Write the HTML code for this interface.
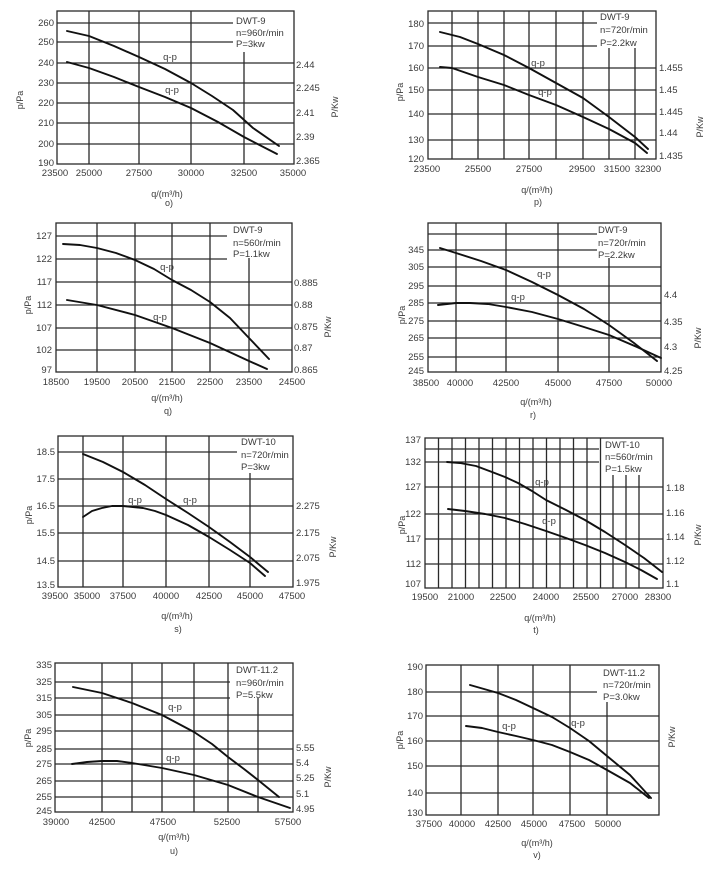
<!DOCTYPE html>
<html><head><meta charset="utf-8"><style>
html,body{margin:0;padding:0;background:#fff;}
svg{display:block;}
text{font-family:"Liberation Sans",sans-serif;fill:#3a3a3a;font-size:9.5px;}
.g{stroke:#2a2a2a;stroke-width:1.3;fill:none;}
.c{stroke:#111;stroke-width:1.9;fill:none;stroke-linejoin:round;stroke-linecap:round;}
.e{text-anchor:end;}
.m{text-anchor:middle;}
.t{font-size:9px;}
</style></head><body>
<svg width="720" height="877" viewBox="0 0 720 877" xmlns="http://www.w3.org/2000/svg">

<!-- ===== o ===== -->
<g>
<rect class="g" x="57" y="11" width="237" height="153"/>
<path class="g" d="M89 11V164M139 11V164M191 11V164M244 52V164M57 23H233M57 42H233M57 63H294M57 83H294M57 103H294M57 123H294M57 144H294"/>
<g class="e"><text x="54" y="26">260</text><text x="54" y="45">250</text><text x="54" y="66">240</text><text x="54" y="86">230</text><text x="54" y="106">220</text><text x="54" y="126">210</text><text x="54" y="147">200</text><text x="54" y="166">190</text></g>
<text x="296" y="68">2.44</text><text x="296" y="91">2.245</text><text x="296" y="116">2.41</text><text x="296" y="140">2.39</text><text x="296" y="164">2.365</text>
<g class="m"><text x="55" y="176">23500</text><text x="89" y="176">25000</text><text x="139" y="176">27500</text><text x="191" y="176">30000</text><text x="244" y="176">32500</text><text x="293" y="176">35000</text>
<text class="t" x="167" y="197">q/(m³/h)</text><text class="t" x="169" y="206">o)</text></g>
<text class="t m" transform="translate(23,100) rotate(-90)">p/Pa</text>
<text class="t m" transform="translate(338,107) rotate(-90)">P/Kw</text>
<text x="236" y="24">DWT-9</text><text x="236" y="36">n=960r/min</text><text x="236" y="47">P=3kw</text>
<polyline class="c" points="67,31 89,36 114,46 139,57 165,69 191,83 212,96 233,110 253,128 279,146"/>
<polyline class="c" points="67,62 89,68 114,77 139,87 165,97 191,108 218,122 244,137 277,154"/>
<text class="m" x="170" y="60">q-p</text><text class="m" x="172" y="93">q-p</text>
</g>

<!-- ===== p ===== -->
<g>
<rect class="g" x="428" y="11" width="228" height="148"/>
<path class="g" d="M452 11V159M478 11V159M504 11V159M529 11V159M556 11V159M583 11V159M609 48V159M635 48V159M428 23H597M428 46H597M428 68H656M428 90H656M428 114H656M428 140H656"/>
<g class="e"><text x="424" y="27">180</text><text x="424" y="49">170</text><text x="424" y="71">160</text><text x="424" y="93">150</text><text x="424" y="117">140</text><text x="424" y="143">130</text><text x="424" y="162">120</text></g>
<text x="659" y="71">1.455</text><text x="659" y="93">1.45</text><text x="659" y="115">1.445</text><text x="659" y="136">1.44</text><text x="659" y="159">1.435</text>
<g class="m"><text x="427" y="172">23500</text><text x="478" y="172">25500</text><text x="529" y="172">27500</text><text x="582" y="172">29500</text><text x="617" y="172">31500</text><text x="648" y="172">32300</text>
<text class="t" x="537" y="193">q/(m³/h)</text><text class="t" x="538" y="205">p)</text></g>
<text class="t m" transform="translate(403,92) rotate(-90)">p/Pa</text>
<text class="t m" transform="translate(703,127) rotate(-90)">P/Kw</text>
<text x="600" y="20">DWT-9</text><text x="600" y="33">n=720r/min</text><text x="600" y="46">P=2.2kw</text>
<polyline class="c" points="440,32 460,37 478,44 504,55 529,68 556,83 583,98 609,117 635,137 648,149"/>
<polyline class="c" points="440,67 452,68 478,77 504,85 529,95 556,105 583,117 609,129 635,143 647,153"/>
<text class="m" x="538" y="66">q-p</text><text class="m" x="545" y="95">q-p</text>
</g>

<!-- ===== q ===== -->
<g>
<rect class="g" x="56" y="223" width="236" height="149"/>
<path class="g" d="M97 223V372M135 223V372M172 223V372M210 223V372M249 258V372M56 236H227M56 259H227M56 282H292M56 305H292M56 328H292M56 350H292"/>
<g class="e"><text x="52" y="239">127</text><text x="52" y="262">122</text><text x="52" y="285">117</text><text x="52" y="308">112</text><text x="52" y="331">107</text><text x="52" y="353">102</text><text x="52" y="373">97</text></g>
<text x="294" y="286">0.885</text><text x="294" y="308">0.88</text><text x="294" y="330">0.875</text><text x="294" y="351">0.87</text><text x="294" y="373">0.865</text>
<g class="m"><text x="56" y="385">18500</text><text x="97" y="385">19500</text><text x="135" y="385">20500</text><text x="172" y="385">21500</text><text x="210" y="385">22500</text><text x="249" y="385">23500</text><text x="292" y="385">24500</text>
<text class="t" x="167" y="401">q/(m³/h)</text><text class="t" x="168" y="414">q)</text></g>
<text class="t m" transform="translate(31,305) rotate(-90)">p/Pa</text>
<text class="t m" transform="translate(331,327) rotate(-90)">P/Kw</text>
<text x="233" y="233">DWT-9</text><text x="233" y="246">n=560r/min</text><text x="233" y="257">P=1.1kw</text>
<polyline class="c" points="63,244 80,245 97,248 116,253 135,260 154,269 172,280 191,290 210,302 230,318 249,338 269,359"/>
<polyline class="c" points="67,300 97,305 135,315 172,328 210,343 249,361 267,369"/>
<text class="m" x="167" y="270">q-p</text><text class="m" x="160" y="320">q-p</text>
</g>

<!-- ===== r ===== -->
<g>
<rect class="g" x="428" y="223" width="233" height="149"/>
<path class="g" d="M456 223V372M506 223V372M558 223V372M609 258V372M428 234H597M428 250H597M428 267H661M428 286H661M428 303H661M428 321H661M428 338H661M428 357H661"/>
<g class="e"><text x="424" y="253">345</text><text x="424" y="270">305</text><text x="424" y="289">295</text><text x="424" y="306">285</text><text x="424" y="324">275</text><text x="424" y="341">265</text><text x="424" y="360">255</text><text x="424" y="374">245</text></g>
<text x="664" y="298">4.4</text><text x="664" y="325">4.35</text><text x="664" y="350">4.3</text><text x="664" y="374">4.25</text>
<g class="m"><text x="426" y="386">38500</text><text x="460" y="386">40000</text><text x="506" y="386">42500</text><text x="558" y="386">45000</text><text x="609" y="386">47500</text><text x="659" y="386">50000</text>
<text class="t" x="536" y="405">q/(m³/h)</text><text class="t" x="533" y="418">r)</text></g>
<text class="t m" transform="translate(405,315) rotate(-90)">p/Pa</text>
<text class="t m" transform="translate(701,338) rotate(-90)">P/Kw</text>
<text x="598" y="233">DWT-9</text><text x="598" y="246">n=720r/min</text><text x="598" y="258">P=2.2kw</text>
<polyline class="c" points="440,248 456,253 481,261 506,270 532,282 558,295 584,309 609,325 634,343 657,361"/>
<polyline class="c" points="438,305 456,303 470,303 488,304 506,307 532,312 558,319 584,327 609,335 637,347 661,358"/>
<text class="m" x="544" y="277">q-p</text><text class="m" x="518" y="300">q-p</text>
</g>

<!-- ===== s ===== -->
<g>
<rect class="g" x="58" y="436" width="235" height="151"/>
<path class="g" d="M83 436V587M123 436V587M166 436V587M209 436V587M250 473V587M58 452H237M58 479H293M58 506H293M58 533H293M58 561H293"/>
<g class="e"><text x="55" y="455">18.5</text><text x="55" y="482">17.5</text><text x="55" y="509">16.5</text><text x="55" y="536">15.5</text><text x="55" y="564">14.5</text><text x="55" y="588">13.5</text></g>
<text x="296" y="509">2.275</text><text x="296" y="536">2.175</text><text x="296" y="561">2.075</text><text x="296" y="586">1.975</text>
<g class="m"><text x="55" y="599">39500</text><text x="87" y="599">35000</text><text x="123" y="599">37500</text><text x="166" y="599">40000</text><text x="209" y="599">42500</text><text x="250" y="599">45000</text><text x="292" y="599">47500</text>
<text class="t" x="177" y="619">q/(m³/h)</text><text class="t" x="178" y="632">s)</text></g>
<text class="t m" transform="translate(32,515) rotate(-90)">p/Pa</text>
<text class="t m" transform="translate(336,547) rotate(-90)">P/Kw</text>
<text x="241" y="445">DWT-10</text><text x="241" y="458">n=720r/min</text><text x="241" y="470">P=3kw</text>
<polyline class="c" points="83,454 103,462 123,472 145,485 166,499 188,513 209,527 230,542 250,557 268,572"/>
<polyline class="c" points="83,517 92,511 102,508 112,506 123,506 133,507 143,508 155,511 166,515 188,525 209,537 230,550 250,563 265,576"/>
<text class="m" x="135" y="503">q-p</text><text class="m" x="190" y="503">q-p</text>
</g>

<!-- ===== t ===== -->
<g>
<rect class="g" x="425" y="438" width="238" height="150"/>
<path class="g" d="M438.5 438V588M452 438V588M465.5 438V588M479 438V588M492.5 438V588M506 438V588M519.5 438V588M533 438V588M546.5 438V588M560 438V588M573.5 438V588M587 438V588M600.5 438V588M613 475V588M626 475V588M639 475V588M425 449H599M425 462H599M425 487H663M425 514H663M425 539H663M425 564H663"/>
<g class="e"><text x="421" y="443">137</text><text x="421" y="465">132</text><text x="421" y="490">127</text><text x="421" y="517">122</text><text x="421" y="542">117</text><text x="421" y="567">112</text><text x="421" y="587">107</text></g>
<text x="666" y="491">1.18</text><text x="666" y="516">1.16</text><text x="666" y="540">1.14</text><text x="666" y="564">1.12</text><text x="666" y="587">1.1</text>
<g class="m"><text x="425" y="600">19500</text><text x="461" y="600">21000</text><text x="503" y="600">22500</text><text x="546" y="600">24000</text><text x="586" y="600">25500</text><text x="625" y="600">27000</text><text x="658" y="600">28300</text>
<text class="t" x="540" y="621">q/(m³/h)</text><text class="t" x="536" y="633">t)</text></g>
<text class="t m" transform="translate(405,525) rotate(-90)">p/Pa</text>
<text class="t m" transform="translate(701,535) rotate(-90)">P/Kw</text>
<text x="605" y="448">DWT-10</text><text x="605" y="460">n=560r/min</text><text x="605" y="472">P=1.5kw</text>
<polyline class="c" points="447,462 460,463 476,466 492,472 505,477 518,483 532,491 546,500 566,510 585,520 605,532 625,545 644,558 662,572"/>
<polyline class="c" points="448,509 465,511 485,514 505,518 525,524 546,531 566,538 585,545 605,553 625,562 641,570 657,579"/>
<text class="m" x="542" y="485">q-p</text><text class="m" x="549" y="524">q-p</text>
</g>

<!-- ===== u ===== -->
<g>
<rect class="g" x="55" y="663" width="238" height="149"/>
<path class="g" d="M102 663V812M132 663V812M162 663V812M194 663V812M228 663V812M258 698V812M55 682H230M55 698H230M55 715H293M55 731H293M55 749H293M55 764H293M55 781H293M55 797H293"/>
<g class="e"><text x="52" y="668">335</text><text x="52" y="685">325</text><text x="52" y="701">315</text><text x="52" y="718">305</text><text x="52" y="734">295</text><text x="52" y="752">285</text><text x="52" y="767">275</text><text x="52" y="784">265</text><text x="52" y="800">255</text><text x="52" y="814">245</text></g>
<text x="296" y="751">5.55</text><text x="296" y="766">5.4</text><text x="296" y="781">5.25</text><text x="296" y="797">5.1</text><text x="296" y="812">4.95</text>
<g class="m"><text x="56" y="825">39000</text><text x="102" y="825">42500</text><text x="163" y="825">47500</text><text x="227" y="825">52500</text><text x="288" y="825">57500</text>
<text class="t" x="174" y="840">q/(m³/h)</text><text class="t" x="174" y="854">u)</text></g>
<text class="t m" transform="translate(31,738) rotate(-90)">p/Pa</text>
<text class="t m" transform="translate(331,777) rotate(-90)">P/Kw</text>
<text x="236" y="673">DWT-11.2</text><text x="236" y="686">n=960r/min</text><text x="236" y="698">P=5.5kw</text>
<polyline class="c" points="73,687 102,693 132,703 162,715 194,732 212,744 228,757 244,769 258,780 279,797"/>
<polyline class="c" points="72,764 87,762 102,761 117,761 132,763 162,768 194,775 228,785 258,797 290,808"/>
<text class="m" x="175" y="710">q-p</text><text class="m" x="173" y="761">q-p</text>
</g>

<!-- ===== v ===== -->
<g>
<rect class="g" x="426" y="665" width="233" height="150"/>
<path class="g" d="M461 665V815M498 665V815M533 665V815M570 665V815M607 702V815M426 692H597M426 716H659M426 741H659M426 766H659M426 793H659"/>
<g class="e"><text x="423" y="670">190</text><text x="423" y="695">180</text><text x="423" y="719">170</text><text x="423" y="744">160</text><text x="423" y="769">150</text><text x="423" y="796">140</text><text x="423" y="816">130</text></g>
<g class="m"><text x="429" y="827">37500</text><text x="462" y="827">40000</text><text x="498" y="827">42500</text><text x="534" y="827">45000</text><text x="572" y="827">47500</text><text x="608" y="827">50000</text>
<text class="t" x="537" y="846">q/(m³/h)</text><text class="t" x="537" y="858">v)</text></g>
<text class="t m" transform="translate(403,740) rotate(-90)">p/Pa</text>
<text class="t m" transform="translate(675,737) rotate(-90)">P/Kw</text>
<text x="603" y="676">DWT-11.2</text><text x="603" y="688">n=720r/min</text><text x="603" y="700">P=3.0kw</text>
<polyline class="c" points="470,685 498,693 516,700 533,708 552,717 570,728 589,741 607,756 630,775 651,798"/>
<polyline class="c" points="466,726 482,728 498,732 516,736 533,740 552,745 570,752 589,760 607,770 630,783 649,798"/>
<text class="m" x="509" y="729">q-p</text><text class="m" x="578" y="726">q-p</text>
</g>

</svg>
</body></html>
